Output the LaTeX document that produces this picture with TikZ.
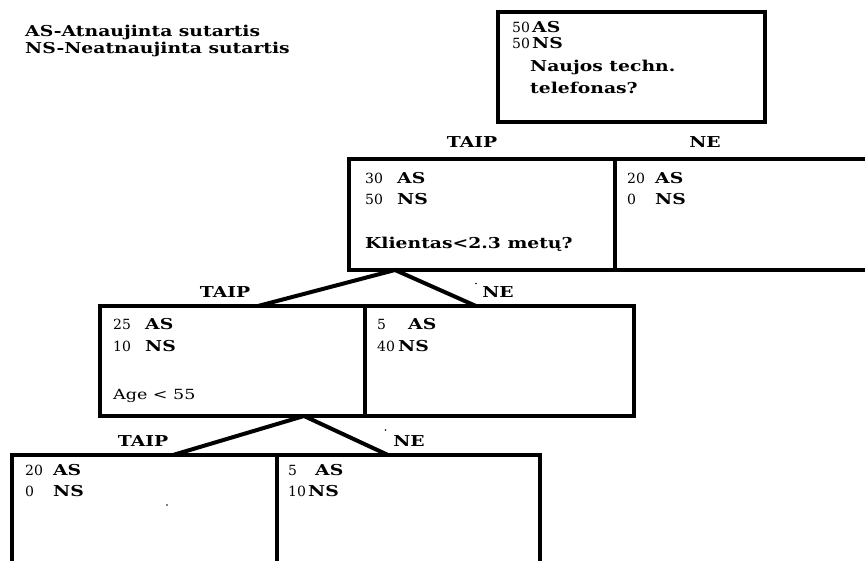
\documentclass[tikz,border=0pt]{standalone}
\usepackage{fontspec}
\setmainfont[FakeStretch=1.25]{DejaVu Serif}
\newfontfamily\countfont{DejaVu Serif}
\begin{document}
\begin{tikzpicture}[x=1pt,y=-1pt,
  box/.style={draw, line width=4pt, inner sep=0pt, outer sep=0pt},
  txt/.style={font=\bfseries\fontsize{15}{18}\selectfont, inner sep=0pt, anchor=mid west},
  plain/.style={font=\mdseries\fontsize{14}{16}\selectfont, inner sep=0pt, anchor=mid west},
  branch/.style={font=\bfseries\fontsize{15}{18}\selectfont, inner sep=0pt},
  edge/.style={line width=4pt, line join=miter},
  speck/.style={fill=black, inner sep=0pt, minimum size=1.6pt, circle}]
\newcommand{\cnt}[2]{\makebox[#1pt][l]{\countfont\mdseries\fontsize{14}{16}\selectfont #2}}
\useasboundingbox (0,0) rectangle (865,561);

% legend
\node[txt] (legas) at (25,33.5) {AS-Atnaujinta sutartis};
\node[txt] (legns) at (25,50.5) {NS-Neatnaujinta sutartis};

% root
\node[box, minimum width=267pt, minimum height=110pt] (root) at (631.5,67) {};
\node[txt] (r1) at (512,30) {\cnt{20}{50}AS};
\node[txt] (r2) at (512,46) {\cnt{20}{50}NS};
\node[txt] (r3) at (530,69) {Naujos techn.};
\node[txt] (r4) at (530,91) {telefonas?};

% level 2
\node[box, minimum width=266pt, minimum height=111pt] (a) at (482,214.5) {};
\node[box, minimum width=285pt, minimum height=111pt] (b) at (757.5,214.5) {};
\node[branch] (ay) at (472,142.5) {TAIP};
\node[branch] (bn) at (705,142.5) {NE};
\node[txt] (a1) at (365,180.5) {\cnt{32}{30}AS};
\node[txt] (a2) at (365,202) {\cnt{32}{50}NS};
\node[txt] (a3) at (365,245.5) {Klientas<2.3 metų?};
\node[txt] (b1) at (627,180.5) {\cnt{28}{20}AS};
\node[txt] (b2) at (627,202) {\cnt{28}{0}NS};

% level 3
\node[box, minimum width=265pt, minimum height=110pt] (c) at (232.5,361) {};
\node[box, minimum width=269pt, minimum height=110pt] (d) at (499.5,361) {};
\coordinate (ja) at (395,270);
\coordinate (tc) at (258,306);
\coordinate (td) at (476,306);
\draw[edge] (tc) -- (ja) -- (td);
\node[branch] (cy) at (225,292) {TAIP};
\node[branch] (dn) at (498,292) {NE};
\node[txt] (c1) at (113,327) {\cnt{32}{25}AS};
\node[txt] (c2) at (113,349) {\cnt{32}{10}NS};
\node[plain] (c3) at (113,397) {Age < 55};
\node[txt] (d1) at (377,327) {\cnt{31}{5}AS};
\node[txt] (d2) at (377,349) {\cnt{21}{40}NS};

% level 4
\node[box, minimum width=265pt, minimum height=145pt] (e) at (144.5,527.5) {};
\node[box, minimum width=263pt, minimum height=145pt] (f) at (408.5,527.5) {};
\coordinate (jc) at (304,416);
\coordinate (te) at (173,455);
\coordinate (tf) at (388,455);
\draw[edge] (te) -- (jc) -- (tf);
\node[branch] (ey) at (143,441) {TAIP};
\node[branch] (fn) at (409,441) {NE};
\node[txt] (e1) at (25,472.5) {\cnt{28}{20}AS};
\node[txt] (e2) at (25,494) {\cnt{28}{0}NS};
\node[txt] (f1) at (288,472.5) {\cnt{27}{5}AS};
\node[txt] (f2) at (288,494) {\cnt{20}{10}NS};

% stray specks
\node[speck] (s1) at (476,283.5) {};
\node[speck] (s2) at (385.5,430) {};
\node[speck] (s3) at (167,505) {};
\end{tikzpicture}
\end{document}
